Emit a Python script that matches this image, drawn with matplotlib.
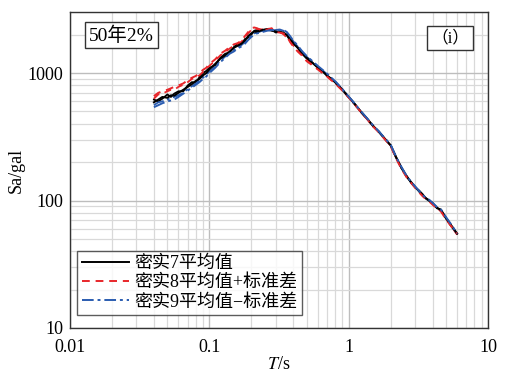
import matplotlib
matplotlib.use("Agg")
import matplotlib.pyplot as plt
from matplotlib.ticker import LogLocator, NullFormatter, FixedLocator, FixedFormatter

plt.rcParams['font.family'] = ['Liberation Serif', 'Noto Sans CJK SC']
plt.rcParams['mathtext.fontset'] = 'stix'

T = [0.04, 0.043, 0.046, 0.05, 0.053, 0.056, 0.06, 0.065, 0.07, 0.075,
     0.08, 0.085, 0.09, 0.095, 0.1, 0.11, 0.12, 0.13, 0.14, 0.15,
     0.16, 0.17, 0.18, 0.19, 0.2, 0.21, 0.22, 0.24, 0.26, 0.28,
     0.3, 0.32, 0.34, 0.36, 0.38, 0.4, 0.43, 0.46, 0.5, 0.55, 0.6,
     0.65, 0.7, 0.75, 0.8, 0.9, 1.0, 1.1, 1.2, 1.35, 1.5, 1.65, 1.8, 2.0,
     2.2, 2.4, 2.6, 2.8, 3.0, 3.2, 3.4, 3.6, 3.8, 4.0, 4.3, 4.6, 5.0, 5.5, 6.0]

sa7_a = [590, 620, 650, 640, 670, 665, 700, 740, 780, 820,
         870, 900, 960, 1000, 1070, 1180, 1300, 1380, 1480, 1580,
         1640, 1700, 1800, 1950, 2050, 2120, 2100, 2180, 2220, 2150,
         2120, 2100, 2080, 2000, 1850, 1720, 1580, 1450, 1320, 1200, 1110,
         1030, 960, 900, 850, 740, 650, 575, 510, 440, 385, 345, 310, 272,
         215, 180, 155, 140, 128, 118, 110, 104, 100, 95, 88, 84, 73, 63, 55]
sa7_b = [620, 600, 630, 680, 650, 690, 720, 720, 800, 850,
         840, 930, 1000, 1040, 1100, 1150, 1320, 1420, 1450, 1600,
         1700, 1680, 1850, 1900, 2000, 2150, 2180, 2150, 2200, 2200,
         2080, 2120, 2050, 1980, 1800, 1700, 1600, 1430, 1300, 1210, 1100,
         1040, 950, 905, 845, 745, 648, 578, 512, 442, 382, 348, 308, 270,
         218, 178, 157, 138, 127, 120, 112, 103, 99, 96, 87, 85, 72, 62, 55]
sa8_a = [660, 700, 720, 740, 760, 780, 800, 830, 880, 920,
         950, 1000, 1060, 1100, 1180, 1280, 1420, 1500, 1600, 1680,
         1720, 1800, 1950, 2100, 2250, 2280, 2250, 2150, 2200, 2250,
         2100, 2080, 2050, 1950, 1750, 1620, 1480, 1380, 1240, 1150, 1070,
         1000, 940, 880, 830, 730, 645, 572, 508, 438, 380, 342, 306, 268,
         212, 176, 153, 138, 126, 116, 108, 102, 98, 93, 87, 82, 71, 62, 55]
sa8_b = [630, 680, 690, 720, 740, 740, 780, 810, 850, 900,
         930, 960, 1020, 1080, 1140, 1250, 1380, 1460, 1560, 1640,
         1700, 1760, 1900, 2050, 2180, 2200, 2220, 2200, 2250, 2200,
         2120, 2100, 2020, 1900, 1780, 1650, 1500, 1400, 1260, 1160, 1080,
         1010, 945, 885, 835, 735, 642, 570, 505, 436, 383, 344, 309, 270,
         214, 178, 154, 139, 127, 117, 109, 103, 99, 94, 86, 83, 72, 62, 54]
sa9_a = [540, 560, 580, 600, 610, 620, 650, 690, 730, 770,
         810, 850, 900, 940, 1000, 1100, 1220, 1320, 1420, 1480,
         1560, 1620, 1700, 1820, 1920, 2000, 2050, 2100, 2150, 2180,
         2160, 2180, 2180, 2100, 1950, 1800, 1650, 1500, 1360, 1240, 1140,
         1060, 990, 920, 865, 750, 655, 580, 515, 444, 388, 348, 312, 275,
         218, 182, 157, 141, 129, 119, 110, 105, 101, 96, 89, 85, 74, 64, 55]
sa9_b = [560, 590, 600, 620, 640, 650, 670, 700, 750, 790,
         830, 880, 920, 970, 1030, 1130, 1250, 1350, 1440, 1520,
         1600, 1660, 1750, 1880, 1980, 2050, 2080, 2150, 2180, 2150,
         2180, 2200, 2150, 2060, 1920, 1780, 1620, 1480, 1340, 1230, 1130,
         1050, 980, 915, 860, 748, 652, 578, 513, 442, 386, 346, 311, 273,
         216, 181, 156, 140, 128, 118, 109, 104, 100, 95, 88, 84, 73, 63, 55]

labels = ['密实7平均值', '密实8平均值+标准差', '密实9平均值−标准差']
colors = ['black', '#e8262a', '#2a5cb0']
dashes = ['-', (0, (4, 3)), (0, (6, 2, 1.5, 2))]

fig = plt.figure(figsize=(5.06, 3.74), dpi=100)
ax = fig.add_axes([70/506, 1-328/374, 418/506, (328-12.3)/374])

groups = [(sa7_a, sa7_b), (sa8_a, sa8_b), (sa9_a, sa9_b)]
for i, (ya, yb) in enumerate(groups):
    ax.plot(T, yb, color=colors[i], lw=1.3, ls=dashes[i])
for i, (ya, yb) in enumerate(groups):
    ax.plot(T, ya, color=colors[i], lw=1.4, ls=dashes[i], label=labels[i])

ax.set_xscale('log')
ax.set_yscale('log')
ax.set_xlim(0.01, 10)
ax.set_ylim(10, 3000)

ax.xaxis.set_major_locator(FixedLocator([0.01, 0.1, 1, 10]))
ax.xaxis.set_major_formatter(FixedFormatter(['0.01', '0.1', '1', '10']))
ax.yaxis.set_major_locator(FixedLocator([10, 100, 1000]))
ax.yaxis.set_major_formatter(FixedFormatter(['10', '100', '1000']))
ax.xaxis.set_minor_locator(LogLocator(base=10, subs=range(2, 10)))
ax.yaxis.set_minor_locator(LogLocator(base=10, subs=range(2, 10)))
ax.xaxis.set_minor_formatter(NullFormatter())
ax.yaxis.set_minor_formatter(NullFormatter())

ax.grid(True, which='major', color='#bdbdbd', lw=1.0)
ax.grid(True, which='minor', color='#d9d9d9', lw=0.9)
ax.set_axisbelow(True)
ax.tick_params(which='both', length=0, labelsize=13)
ax.tick_params(axis='y', pad=5)
ax.tick_params(axis='x', pad=8)

for s in ax.spines.values():
    s.set_linewidth(1.0)
    s.set_color('#333333')

ax.set_xlabel('$T$/s', fontsize=13, labelpad=0)
ax.set_ylabel('Sa/gal', fontsize=13, labelpad=2)

ax.text(0.045, 0.927, '50年2%', transform=ax.transAxes, fontsize=14, va='center', ha='left',
        bbox=dict(boxstyle='square,pad=0.2', fc='white', ec='#333333', lw=1.0))
ax.text(0.909, 0.918, '（i）', transform=ax.transAxes, fontsize=12, va='center', ha='center',
        bbox=dict(boxstyle='square,pad=0.25', fc='white', ec='#333333', lw=1.0))

leg = ax.legend(loc='lower left', bbox_to_anchor=(0.017, 0.041), fontsize=13, frameon=True,
                fancybox=False, edgecolor='#333333', borderpad=0.25, labelspacing=0.12,
                handlelength=2.6, handletextpad=0.3, borderaxespad=0)
leg.get_frame().set_linewidth(1.0)

fig.savefig('out.png', dpi=100)
